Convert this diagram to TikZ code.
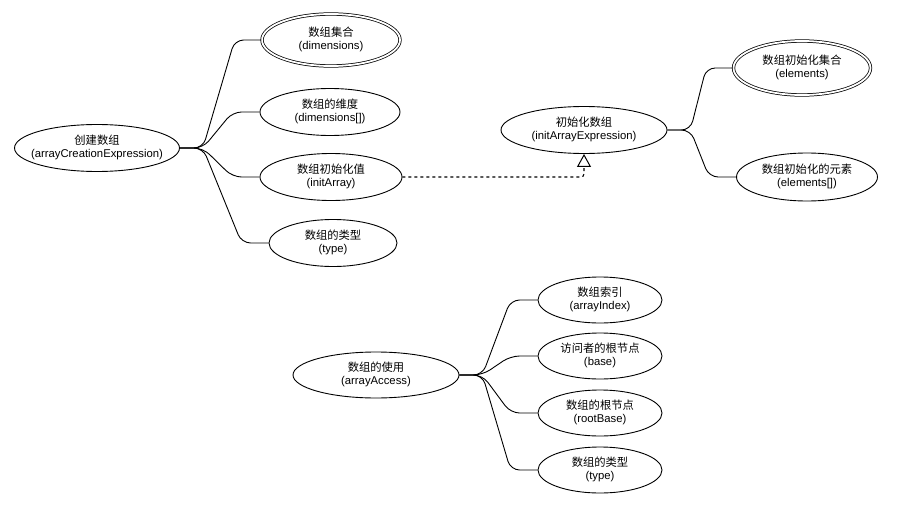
\documentclass[tikz,border=0pt]{standalone}
\usepackage{fontspec}
\setmainfont{Liberation Sans}
\newfontfamily\cjk{Noto Sans CJK SC}
\usetikzlibrary{shapes.geometric,arrows.meta,calc}
\newcommand\lbl[2]{\raisebox{-4pt}{\makebox[0pt][c]{\begin{tabular}{@{}c@{}}{\cjk #1}\\#2\end{tabular}}}}
\begin{document}
\begin{tikzpicture}[x=1pt,y=-1pt,
  el/.style={ellipse,draw,line width=0.9pt,inner sep=0pt,minimum width=#1,minimum height=47pt,
    font=\fontsize{11.3}{13}\selectfont},
  el/.default=142pt,
  dbl/.style={el=#1,double,double distance=1.8pt,line width=0.75pt,minimum height=52pt},
  br/.style={line width=0.9pt,rounded corners=9pt},
  real/.style={line width=1.1pt,dash pattern=on 3pt off 3pt,rounded corners=3pt,
    -{Triangle[open,length=13pt,width=14pt,line width=1pt]}}
]
\useasboundingbox (0,0) rectangle (921,506);

\node[el=165pt] (ace) at (97,148) {\lbl{创建数组}{(arrayCreationExpression)}};
\node[dbl=138pt] (dim) at (331,40) {\lbl{数组集合}{(dimensions)}};
\node[el=140pt] (dimarr) at (330,112) {\lbl{数组的维度}{(dimensions[])}};
\node[el=142pt] (inita) at (331,177) {\lbl{数组初始化值}{(initArray)}};
\node[el=128pt] (type1) at (333,243) {\lbl{数组的类型}{(type)}};

\node[el=166pt] (iae) at (584,130) {\lbl{初始化数组}{(initArrayExpression)}};
\node[dbl=137pt,minimum height=54pt] (elem) at (802,68) {\lbl{数组初始化集合}{(elements)}};
\node[el=141pt,minimum height=48pt] (elemarr) at (807,177) {\lbl{数组初始化的元素}{(elements[])}};

\node[el=166pt,minimum height=46pt] (aa) at (376,375) {\lbl{数组的使用}{(arrayAccess)}};
\node[el=124pt,minimum height=46pt] (ai) at (600,300) {\lbl{数组索引}{(arrayIndex)}};
\node[el=124pt,minimum height=46pt] (base) at (600,356) {\lbl{访问者的根节点}{(base)}};
\node[el=124pt,minimum height=46pt] (rb) at (600,413) {\lbl{数组的根节点}{(rootBase)}};
\node[el=124pt,minimum height=46pt] (type2) at (600,470) {\lbl{数组的类型}{(type)}};

\foreach \s/\t in {ace/dim,ace/dimarr,ace/inita,ace/type1,iae/elem,iae/elemarr,aa/ai,aa/base,aa/rb,aa/type2}{
  \draw[br] (\s.east) -- ++(23,0) -- ($(\t.west)+(-27,0)$) -- (\t.west);
}

\draw[real] (inita.east) -| (iae.south);
\end{tikzpicture}
\end{document}
